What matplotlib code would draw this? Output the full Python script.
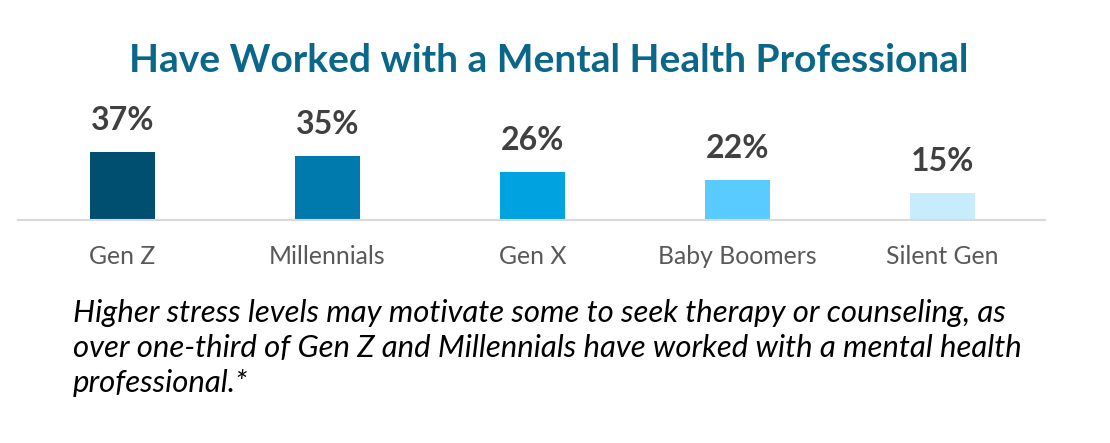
import matplotlib
matplotlib.use("Agg")
import matplotlib.pyplot as plt
import matplotlib.transforms as mtransforms

categories = ["Gen Z", "Millennials", "Gen X", "Baby Boomers", "Silent Gen"]
values = [37, 35, 26, 22, 15]
value_labels = ["37%", "35%", "26%", "22%", "15%"]
colors = ["#004F71", "#0079AD", "#00A3E0", "#59CBFF", "#C7ECFC"]
title = "Have Worked with a Mental Health Professional"
footnote = ["Higher stress levels may motivate some to seek therapy or counseling, as",
            "over one-third of Gen Z and Millennials have worked with a mental health",
            "professional.*"]

W, H = 1110, 443
DPI = 100
FONT = "Lato"
fig = plt.figure(figsize=(W / DPI, H / DPI), dpi=DPI)
fig.patch.set_facecolor("white")

def px(x, y):
    return x / W, 1 - y / H

# axes: baseline at y=220px, left 18px, right 1045px
ymax = 50
ax_h_px = ymax * 1.83
ax = fig.add_axes([18 / W, 1 - 220 / H, (1045 - 18) / W, ax_h_px / H])
x = list(range(len(categories)))
ax.bar(x, values, width=65 / 205, color=colors)
ax.set_xlim(-0.51, 4.5)
ax.set_ylim(0, ymax)
for s in ["top", "right", "left"]:
    ax.spines[s].set_visible(False)
ax.spines["bottom"].set_color("#D9D9D9")
ax.spines["bottom"].set_linewidth(1.5)
ax.set_yticks([])
ax.set_xticks([])
ax.patch.set_alpha(0)

renderer = fig.canvas.get_renderer()

def fit(t, target_px):
    bb = t.get_window_extent(renderer=renderer)
    t.set_fontsize(t.get_fontsize() * target_px / bb.width)

# value labels
vtexts = []
for xi, v, lab in zip(x, values, value_labels):
    t = ax.annotate(lab, (xi, v), xytext=(0, 22 * 72 / DPI), textcoords="offset points",
                    ha="center", va="baseline", fontsize=22, fontweight="bold",
                    color="#404040", family=FONT)
    vtexts.append(t)
fit(vtexts[1], 63)
for t in vtexts:
    t.set_fontsize(vtexts[1].get_fontsize())

# category labels
ctexts = []
for xi, c in zip(x, categories):
    t = ax.annotate(c, (xi, 0), xytext=(0, -44 * 72 / DPI), textcoords="offset points",
                    ha="center", va="baseline", fontsize=16, color="#595959", family=FONT)
    ctexts.append(t)
fit(ctexts[3], 159)
for t in ctexts:
    t.set_fontsize(ctexts[3].get_fontsize())

# title
tt = fig.text(*px(549, 72), title, ha="center", va="baseline", fontsize=28,
              fontweight="bold", color="#0A6789", family=FONT)
fit(tt, 838)

# footnote
ftexts = []
for i, line in enumerate(footnote):
    t = fig.text(*px(73, 322 + 35 * i), line, ha="left", va="baseline", fontsize=17,
                 style="italic", color="black", family=FONT)
    ftexts.append(t)
fit(ftexts[0], 935)
for t in ftexts:
    t.set_fontsize(ftexts[0].get_fontsize())

fig.savefig("out.png", dpi=DPI, facecolor="white")
